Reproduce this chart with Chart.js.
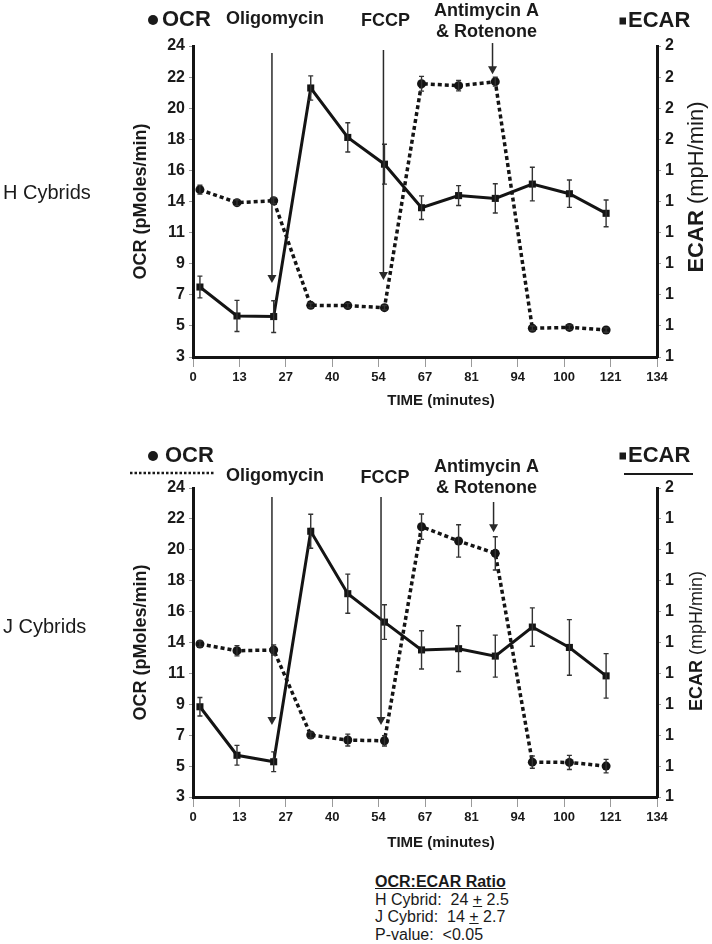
<!DOCTYPE html>
<html>
<head>
<meta charset="utf-8">
<script src="https://cdn.jsdelivr.net/npm/chart.js@4"></script>
<style>
  body { margin:0; background:#fff; width:712px; height:944px; position:relative; overflow:hidden; font-family:"Liberation Sans", Arial, sans-serif; color:#1a1a1a; }
  canvas { position:absolute; left:0; }
  .cyb { position:absolute; left:3px; font-size:20px; line-height:24px; }
  #ratio { position:absolute; left:375px; top:873px; font-size:16px; line-height:17.6px; }
  #ratio b { text-decoration:underline; }
</style>
</head>
<body>
<canvas id="chartH" width="712" height="430" style="top:0"></canvas>
<canvas id="chartJ" width="712" height="430" style="top:442px"></canvas>
<div class="cyb" style="top:180px">H Cybrids</div>
<div class="cyb" style="top:614px">J Cybrids</div>
<div id="ratio">
  <b>OCR:ECAR Ratio</b><br>
  H Cybrid:&nbsp; 24 <u>+</u> 2.5<br>
  J Cybrid:&nbsp; 14 <u>+</u> 2.7<br>
  P-value:&nbsp; &lt;0.05
</div>
<script>
// time of each measurement (minutes)
const times = [2, 12.7, 23.3, 34, 44.7, 55.3, 66, 76.7, 87.3, 98, 108.7, 119.3];
const xTickLabels = ['0', '13', '27', '40', '54', '67', '81', '94', '100', '121', '134'];
const ocrTickLabels = ['3', '5', '7', '9', '11', '14', '16', '18', '20', '22', '24'];
const ecarTickLabelsH = ['1', '1', '1', '1', '1', '1', '1', '2', '2', '2', '2'];
const ecarTickLabelsJ = ['1', '1', '1', '1', '1', '1', '1', '1', '1', '1', '2'];

// H cybrids
const ocrH = [14.3, 13.42, 13.55, 6.49, 6.47, 6.33, 21.45, 21.32, 21.59, 4.94, 5.0, 4.82];
const ocrErrH = [0.3, 0.2, 0.2, 0.15, 0.15, 0.15, 0.5, 0.35, 0.3, 0.15, 0.15, 0.15];
const ecarH = [1.025, 0.932, 0.930, 1.665, 1.506, 1.420, 1.280, 1.319, 1.310, 1.356, 1.325, 1.262];
const ecarErrH = [0.035, 0.05, 0.051, 0.039, 0.047, 0.064, 0.038, 0.032, 0.047, 0.054, 0.044, 0.043];

// J cybrids
const ocrJ = [13.4, 12.94, 12.99, 7.21, 6.87, 6.82, 21.37, 20.4, 19.56, 5.37, 5.35, 5.1];
const ocrErrJ = [0.2, 0.35, 0.35, 0.2, 0.4, 0.35, 0.86, 1.1, 1.13, 0.42, 0.48, 0.46];
const ecarJ = [1.146, 1.0675, 1.057, 1.430, 1.329, 1.283, 1.238, 1.240, 1.228, 1.275, 1.242, 1.196];
const ecarErrJ = [0.015, 0.016, 0.016, 0.0275, 0.0316, 0.028, 0.031, 0.037, 0.034, 0.031, 0.045, 0.036];

// injection arrows: time, OCR value at the top and at the tip
const arrowsH = [[22.8, 23.53, 8.0], [55.0, 23.73, 8.2], [86.5, 24.2, 22.1]];
const arrowsJ = [[22.8, 23.39, 7.89], [54.3, 23.39, 7.89], [86.8, 23.05, 21.0]];

Chart.defaults.font.family = "'Liberation Sans', Arial, sans-serif";
Chart.defaults.color = '#1a1a1a';

const B = n => 'bold ' + n + 'px "Liberation Sans", Arial, sans-serif';
const R = n => n + 'px "Liberation Sans", Arial, sans-serif';

const errorBars = {
  id: 'errorBars',
  afterDatasetsDraw(chart) {
    const ctx = chart.ctx;
    chart.data.datasets.forEach((ds, di) => {
      const meta = chart.getDatasetMeta(di);
      const ys = chart.scales[ds.yAxisID];
      ctx.save();
      ctx.strokeStyle = '#333';
      ctx.lineWidth = 1.4;
      meta.data.forEach((pt, i) => {
        const v = ds.data[i].y, e = ds.errors[i];
        const t = ys.getPixelForValue(v + e), b = ys.getPixelForValue(v - e);
        ctx.beginPath();
        ctx.moveTo(pt.x, t); ctx.lineTo(pt.x, b);
        ctx.moveTo(pt.x - 2.5, t); ctx.lineTo(pt.x + 2.5, t);
        ctx.moveTo(pt.x - 2.5, b); ctx.lineTo(pt.x + 2.5, b);
        ctx.stroke();
      });
      ctx.restore();
    });
  }
};

const arrows = {
  id: 'arrows',
  afterDatasetsDraw(chart, args, opts) {
    const ctx = chart.ctx, xs = chart.scales.x, ys = chart.scales.y;
    ctx.save();
    ctx.strokeStyle = '#2a2a2a';
    ctx.fillStyle = '#2a2a2a';
    ctx.lineWidth = 1.5;
    (opts.list || []).forEach(a => {
      const x = xs.getPixelForValue(a[0]);
      const y0 = ys.getPixelForValue(a[1]), y1 = ys.getPixelForValue(a[2]);
      ctx.beginPath();
      ctx.moveTo(x, y0); ctx.lineTo(x, y1 - 6);
      ctx.stroke();
      ctx.beginPath();
      ctx.moveTo(x - 4.5, y1 - 8); ctx.lineTo(x + 4.5, y1 - 8); ctx.lineTo(x, y1);
      ctx.closePath(); ctx.fill();
    });
    ctx.restore();
  }
};

// header texts, rotated right title, legend symbols and lines
const decor = {
  id: 'decor',
  afterDraw(chart, args, opts) {
    const ctx = chart.ctx;
    ctx.save();
    ctx.fillStyle = '#1a1a1a';
    ctx.strokeStyle = '#1a1a1a';
    (opts.items || []).forEach(it => {
      if (it.line) {
        ctx.save();
        ctx.lineWidth = it.width || 2;
        ctx.setLineDash(it.dash || []);
        ctx.beginPath();
        ctx.moveTo(it.line[0], it.line[1]); ctx.lineTo(it.line[2], it.line[3]);
        ctx.stroke();
        ctx.restore();
        return;
      }
      if (it.dot) {
        ctx.beginPath();
        ctx.arc(it.dot[0], it.dot[1], it.dot[2], 0, Math.PI * 2);
        ctx.fill();
        return;
      }
      if (it.box) {
        ctx.fillRect(it.box[0], it.box[1], it.box[2], it.box[3]);
        return;
      }
      ctx.save();
      ctx.translate(it.x, it.y);
      if (it.rot) ctx.rotate(it.rot * Math.PI / 180);
      ctx.textBaseline = 'middle';
      ctx.textAlign = 'left';
      let total = 0;
      it.parts.forEach(p => { ctx.font = p[1]; p.w = ctx.measureText(p[0]).width; total += p.w; });
      let x = it.align === 'left' ? 0 : -total / 2;
      it.parts.forEach(p => { ctx.font = p[1]; ctx.fillText(p[0], x, 0); x += p.w; });
      ctx.restore();
    });
    ctx.restore();
  }
};

function makeChart(id, ocr, ocrErr, ecar, ecarErr, ecarMin, ecarMax, ecarLabels, arrowList, items, areaBottom) {
  const ctx = document.getElementById(id).getContext('2d');
  return new Chart(ctx, {
    type: 'line',
    data: {
      datasets: [{
        label: 'OCR',
        data: times.map((t, i) => ({ x: t, y: ocr[i] })),
        errors: ocrErr,
        yAxisID: 'y',
        borderColor: '#141414',
        borderWidth: 3.5,
        borderDash: [4, 3],
        pointStyle: 'circle',
        pointRadius: 4.5,
        pointBackgroundColor: '#141414',
        pointBorderWidth: 0,
        tension: 0
      }, {
        label: 'ECAR',
        data: times.map((t, i) => ({ x: t, y: ecar[i] })),
        errors: ecarErr,
        yAxisID: 'y2',
        borderColor: '#141414',
        borderWidth: 3,
        pointStyle: 'rect',
        pointRadius: 5,
        pointBackgroundColor: '#141414',
        pointBorderWidth: 0,
        tension: 0
      }]
    },
    options: {
      responsive: false,
      animation: false,
      layout: { padding: { top: 46, left: 0, right: 0, bottom: 0 } },
      plugins: {
        legend: { display: false },
        tooltip: { enabled: false },
        arrows: { list: arrowList },
        decor: { items: items }
      },
      scales: {
        x: {
          type: 'linear', position: 'bottom', min: 0, max: 134,
          afterBuildTicks: s => { s.ticks = xTickLabels.map((l, i) => ({ value: i * 13.4 })); },
          afterFit: s => { s.height = 430 - areaBottom; },
          ticks: { callback: (v, i) => xTickLabels[i], font: { size: 13, weight: 'bold' }, padding: 3, maxRotation: 0, autoSkip: false },
          grid: { drawOnChartArea: false, drawTicks: true, tickLength: 10, color: '#9a9a9a' },
          border: { color: '#141414', width: 3 }
        },
        y: {
          position: 'left', min: 3, max: 24,
          afterBuildTicks: s => { s.ticks = ocrTickLabels.map((l, i) => ({ value: 3 + i * 2.1 })); },
          afterFit: s => { s.width = 193; },
          ticks: { callback: (v, i) => ocrTickLabels[i], font: { size: 16, weight: 'bold' }, padding: 4, autoSkip: false },
          grid: { drawOnChartArea: false, drawTicks: true, tickLength: 4, color: '#9a9a9a' },
          border: { color: '#141414', width: 3 },
          title: { display: true, text: 'OCR (pMoles/min)', font: { size: 18, weight: 'bold' }, padding: { top: 130, bottom: 0 } }
        },
        y2: {
          position: 'right', min: ecarMin, max: ecarMax,
          afterBuildTicks: s => { s.ticks = ecarLabels.map((l, i) => ({ value: ecarMin + i * (ecarMax - ecarMin) / 10 })); },
          afterFit: s => { s.width = 55; },
          ticks: { callback: (v, i) => ecarLabels[i], font: { size: 16, weight: 'bold' }, padding: 4, autoSkip: false },
          grid: { drawOnChartArea: false, drawTicks: true, tickLength: 4, color: '#9a9a9a' },
          border: { color: '#141414', width: 3 }
        }
      }
    },
    plugins: [errorBars, arrows, decor]
  });
}

const itemsH = [
  { dot: [153, 20, 5] },
  { parts: [['OCR', B(22)]], x: 162, y: 20, align: 'left' },
  { parts: [['Oligomycin', B(18)]], x: 275, y: 19 },
  { parts: [['FCCP', B(18)]], x: 385.5, y: 21 },
  { parts: [['Antimycin A', B(18)]], x: 486.5, y: 11 },
  { parts: [['& Rotenone', B(18)]], x: 486.5, y: 32 },
  { box: [619.5, 17.5, 6.5, 7] },
  { parts: [['ECAR', B(22)]], x: 628, y: 21, align: 'left' },
  { parts: [['ECAR', B(22)], [' (mpH/min)', R(22)]], x: 697, y: 187, rot: -90 },
  { parts: [['TIME (minutes)', B(15)]], x: 441, y: 401 }
];

const itemsJ = [
  { dot: [153, 14, 5] },
  { parts: [['OCR', B(22)]], x: 165, y: 14, align: 'left' },
  { line: [130, 31, 215, 31], dash: [2.5, 2], width: 2.5 },
  { parts: [['Oligomycin', B(18)]], x: 275, y: 34 },
  { parts: [['FCCP', B(18)]], x: 385, y: 36 },
  { parts: [['Antimycin A', B(18)]], x: 486.5, y: 25 },
  { parts: [['& Rotenone', B(18)]], x: 486.5, y: 46 },
  { box: [619.5, 10.5, 6.5, 7] },
  { parts: [['ECAR', B(22)]], x: 628, y: 14, align: 'left' },
  { line: [624, 32, 693, 32], width: 2 },
  { parts: [['ECAR', B(18)], [' (mpH/min)', R(18)]], x: 697, y: 199, rot: -90 },
  { parts: [['TIME (minutes)', B(15)]], x: 441, y: 401 }
];

makeChart('chartH', ocrH, ocrErrH, ecarH, ecarErrH, 0.8, 1.8, ecarTickLabelsH, arrowsH, itemsH, 357);
makeChart('chartJ', ocrJ, ocrErrJ, ecarJ, ecarErrJ, 1.0, 1.5, ecarTickLabelsJ, arrowsJ, itemsJ, 355);
</script>
</body>
</html>
